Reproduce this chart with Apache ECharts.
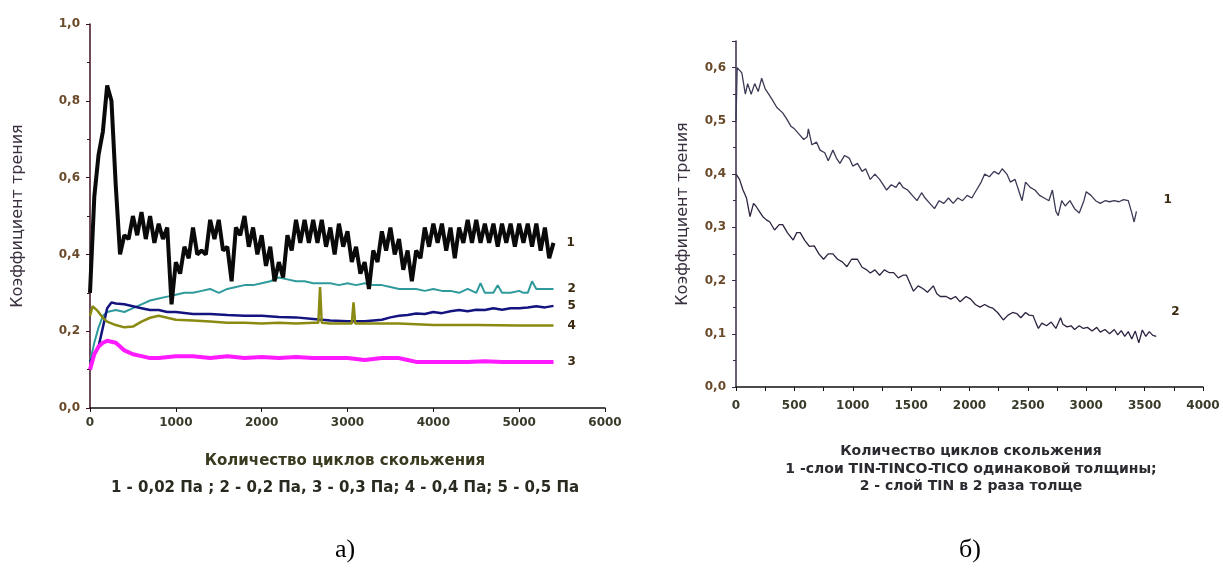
<!DOCTYPE html>
<html>
<head>
<meta charset="utf-8">
<script src="https://cdn.jsdelivr.net/npm/echarts@6/dist/echarts.min.js"></script>
<style>
  html, body { margin: 0; padding: 0; background: #fff; }
  #chart { width: 1223px; height: 572px; }
</style>
</head>
<body>
<div id="chart"></div>
<script>
// а) давление: 1 - 0,02 Па; 2 - 0,2; 3 - 0,3; 4 - 0,4; 5 - 0,5
var x1 = [0,50,100,150,200,250,300,350,400,450,500,550,600,650,700,750,800,850,900,950,
  1000,1050,1100,1150,1200,1250,1300,1350,1400,1450,1500,1550,1600,1650,1700,1750,1800,1850,1900,1950,
  2000,2050,2100,2150,2200,2250,2300,2350,2400,2450,2500,2550,2600,2650,2700,2750,2800,2850,2900,2950,
  3000,3050,3100,3150,3200,3250,3300,3350,3400,3450,3500,3550,3600,3650,3700,3750,3800,3850,3900,3950,
  4000,4050,4100,4150,4200,4250,4300,4350,4400,4450,4500,4550,4600,4650,4700,4750,4800,4850,4900,4950,
  5000,5050,5100,5150,5200,5250,5300,5350,5400];
var y1 = [0.30,0.55,0.66,0.72,0.84,0.80,0.58,0.40,0.45,0.44,0.50,0.45,0.51,0.44,0.50,0.43,0.48,0.44,0.47,0.27,
  0.38,0.35,0.42,0.39,0.47,0.40,0.41,0.40,0.49,0.44,0.49,0.41,0.42,0.33,0.47,0.45,0.50,0.42,0.47,0.40,
  0.45,0.37,0.42,0.33,0.38,0.34,0.45,0.41,0.49,0.43,0.49,0.43,0.49,0.43,0.49,0.42,0.47,0.40,0.48,0.42,
  0.46,0.38,0.42,0.35,0.38,0.31,0.41,0.38,0.46,0.41,0.47,0.40,0.44,0.36,0.41,0.33,0.41,0.39,0.47,0.42,
  0.48,0.43,0.48,0.41,0.47,0.39,0.47,0.43,0.49,0.43,0.49,0.43,0.48,0.43,0.48,0.42,0.48,0.43,0.48,0.42,
  0.48,0.43,0.48,0.42,0.48,0.41,0.47,0.39,0.43];

var x2 = [0,50,100,150,200,300,400,500,600,700,800,900,1000,1100,1200,1300,1400,1500,1600,1700,1800,1900,
  2000,2100,2200,2300,2400,2500,2600,2700,2800,2900,3000,3100,3200,3300,3400,3500,3600,3700,3800,3900,
  4000,4100,4200,4300,4400,4500,4550,4600,4700,4750,4800,4900,5000,5050,5100,5150,5200,5300,5400];
var y2 = [0.12,0.17,0.21,0.24,0.25,0.255,0.25,0.26,0.27,0.28,0.285,0.29,0.295,0.30,0.30,0.305,0.31,0.30,0.31,0.315,0.32,0.32,
  0.325,0.33,0.34,0.335,0.33,0.33,0.325,0.325,0.325,0.32,0.325,0.32,0.325,0.32,0.32,0.315,0.31,0.31,0.31,0.305,
  0.31,0.305,0.305,0.30,0.31,0.30,0.325,0.30,0.30,0.32,0.30,0.30,0.305,0.30,0.30,0.33,0.31,0.31,0.31];

var x3 = [0,50,100,150,200,300,350,400,500,600,700,800,1000,1200,1400,1600,1800,2000,2200,2400,2600,2800,
  3000,3200,3400,3600,3700,3800,4000,4200,4400,4600,4800,5000,5200,5400];
var y3 = [0.10,0.14,0.16,0.17,0.175,0.17,0.16,0.15,0.14,0.135,0.13,0.13,0.135,0.135,0.13,0.135,0.13,0.133,0.13,0.133,0.13,0.13,
  0.13,0.125,0.13,0.13,0.125,0.12,0.12,0.12,0.12,0.122,0.12,0.12,0.12,0.12];

var x4 = [0,30,80,150,200,300,400,500,600,700,800,900,1000,1200,1400,1600,1800,2000,2200,2400,2600,2660,2680,2700,
  2800,3000,3050,3070,3090,3200,3400,3600,3800,4000,4500,5000,5400];
var y4 = [0.24,0.265,0.255,0.235,0.225,0.216,0.21,0.212,0.225,0.235,0.24,0.235,0.23,0.228,0.225,0.222,0.222,0.22,0.222,0.22,0.222,0.222,0.315,0.222,
  0.22,0.22,0.22,0.275,0.22,0.22,0.22,0.22,0.218,0.216,0.216,0.215,0.215];

var x5 = [0,50,100,150,200,250,300,400,500,600,700,800,900,1000,1200,1400,1600,1800,2000,2200,2400,2600,2800,
  3000,3200,3400,3500,3600,3700,3800,3900,4000,4100,4200,4300,4400,4500,4600,4700,4800,4900,5000,5100,5200,5300,5400];
var y5 = [0.12,0.14,0.16,0.21,0.26,0.275,0.272,0.27,0.265,0.26,0.255,0.255,0.25,0.25,0.245,0.245,0.242,0.24,0.24,0.237,0.236,0.232,0.228,
  0.226,0.226,0.23,0.236,0.24,0.242,0.246,0.245,0.25,0.247,0.252,0.255,0.252,0.256,0.255,0.26,0.256,0.26,0.26,0.262,0.265,0.262,0.266];

// б) покрытия
var xb1 = [0,10,50,80,100,130,160,190,220,250,280,310,350,400,430,470,500,540,580,610,620,650,690,720,760,790,830,860,890,930,
  970,1000,1040,1080,1110,1150,1190,1230,1260,1290,1330,1370,1400,1430,1470,1510,1550,1590,1620,1660,1700,1740,1780,1820,1860,1900,
  1940,1980,2020,2060,2100,2130,2170,2210,2250,2280,2320,2350,2390,2420,2450,2480,2520,2560,2600,2640,2680,2710,2740,2760,2790,
  2820,2860,2900,2940,2980,3000,3040,3080,3120,3160,3200,3240,3280,3320,3360,3390,3410,3430];
var yb1 = [0.50,0.60,0.59,0.55,0.57,0.55,0.57,0.555,0.58,0.56,0.55,0.54,0.525,0.515,0.505,0.49,0.485,0.475,0.465,0.47,0.485,0.455,0.46,0.445,0.44,0.425,0.445,0.43,0.42,0.435,
  0.43,0.415,0.42,0.405,0.41,0.39,0.40,0.39,0.38,0.37,0.38,0.375,0.385,0.375,0.37,0.36,0.35,0.365,0.355,0.345,0.335,0.35,0.345,0.355,0.345,0.355,
  0.35,0.36,0.355,0.37,0.385,0.40,0.395,0.405,0.40,0.41,0.40,0.385,0.39,0.37,0.35,0.385,0.375,0.37,0.36,0.355,0.35,0.37,0.33,0.322,0.35,
  0.34,0.35,0.335,0.327,0.35,0.367,0.36,0.35,0.345,0.35,0.348,0.35,0.348,0.352,0.35,0.327,0.31,0.33];

var xb2 = [0,30,60,90,120,150,170,200,230,260,290,330,370,400,440,490,520,550,590,630,670,710,750,790,830,870,910,950,990,1040,
  1080,1120,1150,1190,1230,1270,1310,1350,1390,1430,1460,1490,1520,1560,1600,1640,1690,1720,1750,1800,1840,1880,1920,1970,2010,
  2050,2090,2130,2170,2200,2240,2290,2330,2370,2405,2440,2480,2510,2545,2570,2590,2620,2660,2700,2740,2780,2800,2835,2870,2900,
  2940,2975,3010,3050,3090,3120,3160,3200,3240,3270,3300,3330,3360,3390,3420,3450,3480,3510,3540,3570,3600];
var yb2 = [0.40,0.39,0.37,0.355,0.32,0.345,0.34,0.33,0.32,0.314,0.31,0.295,0.305,0.305,0.29,0.276,0.29,0.29,0.275,0.264,0.265,0.25,0.24,0.25,0.25,0.24,0.235,0.226,0.24,0.24,
  0.225,0.22,0.214,0.22,0.21,0.22,0.215,0.215,0.205,0.21,0.21,0.195,0.18,0.19,0.185,0.178,0.19,0.175,0.17,0.17,0.165,0.17,0.16,0.17,0.165,
  0.155,0.15,0.155,0.15,0.148,0.14,0.126,0.135,0.14,0.138,0.13,0.14,0.135,0.134,0.12,0.11,0.12,0.115,0.122,0.11,0.13,0.118,0.113,0.115,0.108,
  0.115,0.11,0.112,0.105,0.112,0.103,0.108,0.10,0.108,0.098,0.106,0.095,0.104,0.09,0.105,0.083,0.107,0.095,0.104,0.097,0.095];

function pairs(xs, ys) {
    return xs.map(function (x, i) { return [x, ys[i]]; });
}

var chart = echarts.init(document.getElementById('chart'));

var labelFont = { fontFamily: 'DejaVu Sans', fontWeight: 'bold', fontSize: 12 };

function xAxisOf(idx, max, interval, minor, gap) {
    return {
        type: 'value', gridIndex: idx, min: 0, max: max, interval: interval,
        splitLine: { show: false },
        axisLine: { lineStyle: { color: '#111', width: 1.5 } },
        axisTick: { length: 4, lineStyle: { color: '#111' } },
        minorTick: { show: minor, splitNumber: 2, length: 4, lineStyle: { color: '#111' } },
        axisLabel: Object.assign({ color: '#3a3a2a', margin: gap,
            formatter: function (v) { return String(v); } }, labelFont)
    };
}
function yAxisOf(idx, max, interval, name, nameGap, axisColor, showMax) {
    return {
        type: 'value', gridIndex: idx, min: 0, max: max, interval: interval,
        name: name, nameLocation: 'middle', nameGap: nameGap,
        nameTextStyle: { fontFamily: 'DejaVu Sans', fontSize: 16, color: '#3a3040' },
        splitLine: { show: false },
        axisLine: { show: true, lineStyle: { color: axisColor, width: 1.5 } },
        axisTick: { show: true, length: 4, lineStyle: { color: axisColor } },
        minorTick: { show: true, splitNumber: 2, length: 3, lineStyle: { color: axisColor } },
        axisLabel: Object.assign({ color: '#6a4a2a', margin: 10, showMaxLabel: showMax,
            formatter: function (v) { return v.toFixed(1).replace('.', ','); } }, labelFont)
    };
}

function line(name, xs, ys, color, width, idx, label) {
    return {
        name: name, type: 'line', xAxisIndex: idx, yAxisIndex: idx,
        data: pairs(xs, ys), symbol: 'none', animation: false,
        lineStyle: { color: color, width: width },
        endLabel: Object.assign({ show: true, formatter: name, color: '#3a2a10',
            fontFamily: 'DejaVu Sans', fontWeight: 'bold', fontSize: 12 }, label)
    };
}

var option = {
    backgroundColor: '#fff',
    grid: [
        { left: 90, top: 24, width: 515, height: 384, outerBoundsMode: 'none' },
        { left: 736, top: 41, width: 467, height: 346, outerBoundsMode: 'none' }
    ],
    xAxis: [
        xAxisOf(0, 6000, 1000, false, 9),
        xAxisOf(1, 4000, 500, true, 13)
    ],
    yAxis: [
        yAxisOf(0, 1.0, 0.2, 'Коэффициент трения', 64, '#3a1020', true),
        yAxisOf(1, 0.65, 0.1, 'Коэффициент трения', 45, '#3a2a4a', false)
    ],
    series: [
        line('2', x2, y2, '#2f9a9c', 2, 0, { distance: 14 }),
        line('5', x5, y5, '#141480', 2.5, 0, { distance: 14 }),
        line('4', x4, y4, '#8a8a12', 2.5, 0, { distance: 14 }),
        line('3', x3, y3, '#ff1aff', 4, 0, { distance: 14 }),
        line('1', x1, y1, '#0a0a0a', 4, 0, { distance: 13 }),
        line('1', xb1, yb1, '#3b3a55', 1.3, 1, { distance: 27, offset: [0, -11] }),
        line('2', xb2, yb2, '#2e2340', 1.3, 1, { distance: 15, offset: [0, -25] })
    ],
    graphic: [
        { type: 'text', x: 345, y: 461, style: { text: 'Количество циклов скольжения', textAlign: 'center', textVerticalAlign: 'middle',
            font: 'bold 15px "DejaVu Sans"', fill: '#3a3a20' } },
        { type: 'text', x: 345, y: 488, style: { text: '1 - 0,02 Па ; 2 - 0,2 Па, 3 - 0,3 Па; 4 - 0,4 Па; 5 - 0,5 Па', textAlign: 'center', textVerticalAlign: 'middle',
            font: 'bold 15px "DejaVu Sans"', fill: '#2a2a20' } },
        { type: 'text', x: 971, y: 451, style: { text: 'Количество циклов скольжения', textAlign: 'center', textVerticalAlign: 'middle',
            font: 'bold 14px "DejaVu Sans"', fill: '#2a2a30' } },
        { type: 'text', x: 971, y: 469, style: { text: '1 -слои TIN-TINCO-TICO одинаковой толщины;', textAlign: 'center', textVerticalAlign: 'middle',
            font: 'bold 14px "DejaVu Sans"', fill: '#2a2a30' } },
        { type: 'text', x: 971, y: 486, style: { text: '2 - слой TIN в 2 раза толще', textAlign: 'center', textVerticalAlign: 'middle',
            font: 'bold 14px "DejaVu Sans"', fill: '#2a2a30' } },
        { type: 'text', x: 345, y: 550, style: { text: 'а)', textAlign: 'center', textVerticalAlign: 'middle',
            font: '26px "Liberation Serif"', fill: '#000' } },
        { type: 'text', x: 970, y: 550, style: { text: 'б)', textAlign: 'center', textVerticalAlign: 'middle',
            font: '26px "Liberation Serif"', fill: '#000' } }
    ]
};

chart.setOption(option);

window.onresize = function () {
    chart.resize();
};
</script>
</body>
</html>
